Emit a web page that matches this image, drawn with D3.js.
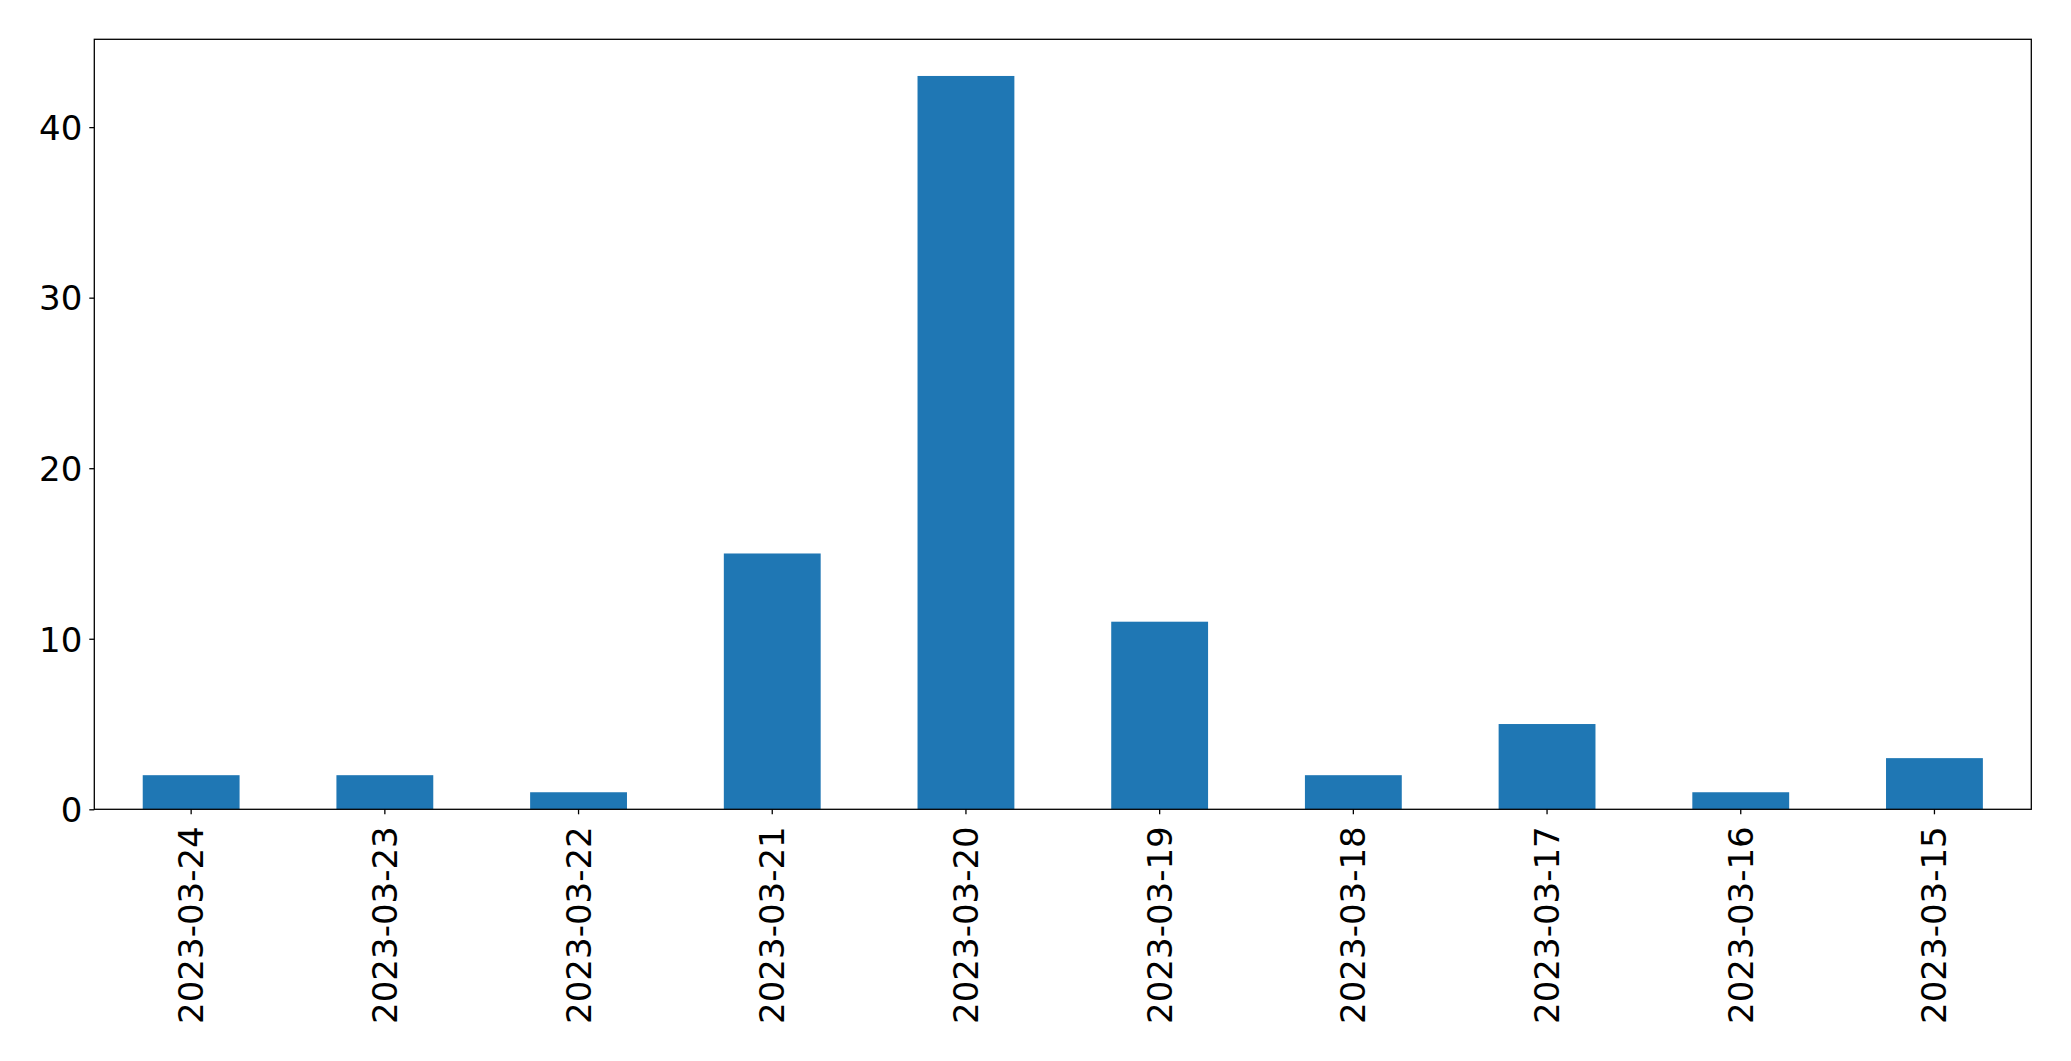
<!DOCTYPE html>
<html><head><meta charset="utf-8">
<script src="https://cdn.jsdelivr.net/npm/d3@7"></script>
<style>body{margin:0;background:#fff}svg{display:block}</style>
</head><body>
<script>
const categories = ["2023-03-24","2023-03-23","2023-03-22","2023-03-21","2023-03-20","2023-03-19","2023-03-18","2023-03-17","2023-03-16","2023-03-15"];
const values = [2,2,1,15,43,11,2,5,1,3];
const yTicks = [0,10,20,30,40];

const W = 2071, H = 1061;
const m = {left:94.3, right:2031.3, top:39.3, bottom:809.3};
const svg = d3.select("body").append("svg").attr("width",W).attr("height",H);
const font = "DejaVu Sans, sans-serif";

const x = d3.scaleBand().domain(categories).range([m.left,m.right]).paddingInner(0.5).paddingOuter(0.25);
const y = d3.scaleLinear().domain([0, d3.max(values)*1.05]).range([m.bottom,m.top]);

svg.append("g").selectAll("rect").data(values).join("rect")
  .attr("x",(d,i)=>x(categories[i])).attr("width",x.bandwidth())
  .attr("y",d=>y(d)).attr("height",d=>y(0)-y(d)).attr("fill","#1f77b4");

const xa = svg.append("g").attr("transform",`translate(0,${m.bottom})`)
  .call(d3.axisBottom(x).tickSize(5).tickPadding(0));
xa.select(".domain").remove();
xa.selectAll("line").attr("stroke","#000").attr("stroke-width",1.3);
xa.selectAll("text").attr("font-family",font).attr("font-size",34).attr("fill","#000")
  .attr("text-anchor","end").attr("dy",null).attr("y",0)
  .attr("dominant-baseline","central")
  .attr("transform","translate(0,17) rotate(-90)");

const ya = svg.append("g").attr("transform",`translate(${m.left},0)`)
  .call(d3.axisLeft(y).tickValues(yTicks).tickSize(5).tickPadding(7));
ya.select(".domain").remove();
ya.selectAll("line").attr("stroke","#000").attr("stroke-width",1.3);
ya.selectAll("text").attr("font-family",font).attr("font-size",34).attr("fill","#000")
  .attr("dy","0.36em");

svg.append("rect").attr("x",m.left).attr("y",m.top).attr("width",m.right-m.left).attr("height",m.bottom-m.top)
  .attr("fill","none").attr("stroke","#000").attr("stroke-width",1.3);
</script>
</body></html>
